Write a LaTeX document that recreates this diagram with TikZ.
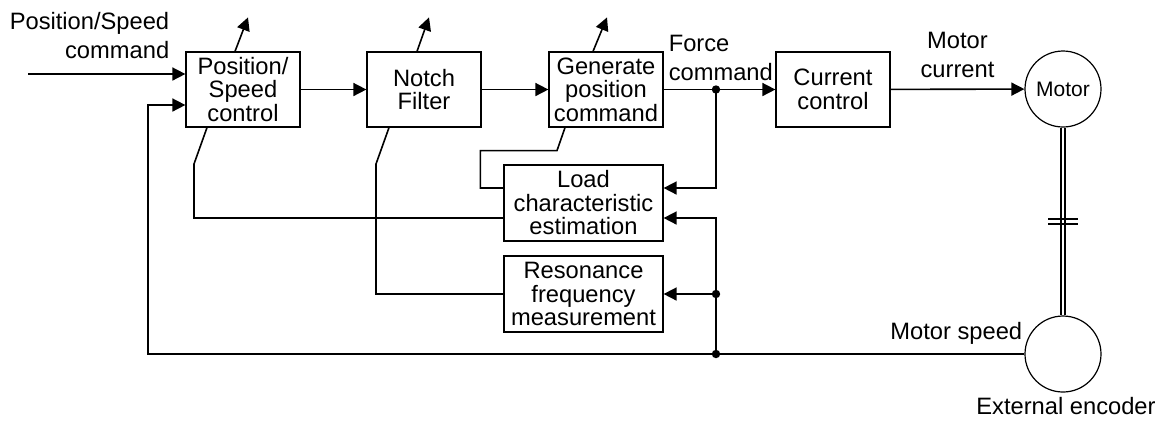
\documentclass[tikz,border=0pt]{standalone}
\usepackage{fontspec}
\setmainfont{Liberation Sans}
\usetikzlibrary{arrows.meta,calc}

\tikzset{
  blk/.style={draw, line width=0.6pt, minimum width=57pt, minimum height=37.5pt,
    align=center, inner sep=1pt, font=\fontsize{11.85}{11.75}\selectfont},
  wideblk/.style={blk, minimum width=79.5pt, minimum height=38pt},
  lbl/.style={inner sep=0pt, font=\fontsize{11.85}{14.5}\selectfont},
  rotor/.style={draw, circle, line width=0.6pt, minimum size=38pt, inner sep=0pt,
    font=\fontsize{10.5}{12}\selectfont},
  arr/.style={-{Triangle[length=6.5pt,width=6.5pt]}},
  jdot/.style={circle, fill, inner sep=0pt, minimum size=4.2pt},
}

\begin{document}
\begin{tikzpicture}[x=0.5pt, y=-0.5pt, line width=0.8pt]
    \useasboundingbox (0,0) rectangle (1157,420);
    % Forward path
    \node[blk] (pc) at (243,89.5) {Position/\\Speed\\control};
    \node[blk] (nf) at (424,89.5) {Notch\\Filter};
    \node[blk] (gp) at (606,89.5) {Generate\\position\\command};
    \node[blk] (cc) at (833,89.5) {Current\\control};
    \node[rotor] (motor) at (1063,89) {Motor};
    \node[rotor] (enc) at (1063,354) {};
    % Estimation blocks
    \node[wideblk] (le) at (583.5,203) {Load\\characteristic\\estimation};
    \node[wideblk] (rf) at (583.5,294) {Resonance\\frequency\\measurement};
    % Labels
    \node[lbl, align=right, anchor=east] (cmdlbl) at (170,36) {Position/Speed\\command};
    \node[lbl, align=left, anchor=west] (forcelbl) at (668,57.5) {Force\\command};
    \node[lbl, align=center] (curlbl) at (957.5,55) {Motor\\current};
    \node[lbl, anchor=east] (spdlbl) at (1023,333) {Motor speed};
    \node[lbl] (enclbl) at (1066,406) {External encoder};

    \coordinate (in) at (28,74);
    \coordinate (fb) at (148,105);
    \coordinate (fj) at (716,89.5);
    \coordinate (rj) at (716,294);
    \coordinate (sj) at (716,354);
    \draw[arr] (in) -- (in -| pc.west);
    \draw[arr] (pc) -- (nf);
    \draw[arr] (nf) -- (gp);
    \draw[arr] (gp) -- (cc);
    \draw[arr] (cc) -- (motor);
    % Speed feedback
    \draw[arr] (enc.west) -| (fb) -- (fb -| pc.west);
    \draw[arr] (fj) |- ($(le.east)+(0,-15)$);
    \draw[arr] (sj) |- ($(le.east)+(0,15)$);
    \draw[arr] (rj) -- (rf.east);
    \foreach \j in {fj, rj, sj}
        \node[jdot] at (\j) {};
    % Adjusted parameters
    \draw ($(le.west)+(0,15)$) -| (194,164) -- ($(pc.south)+(-36,0)$);
    \draw[arr] ($(pc.north)+(-8,0)$) -- ++(13,-34);
    \draw (rf.west) -| (376,164) -- ($(nf.south)+(-35,0)$);
    \draw[arr] ($(nf.north)+(-7,0)$) -- ++(12,-34);
    \draw ($(gp.south)+(-41,0)$) -- ++(-8,23) -| ($(le.west)+(-23,-15)$) -- ($(le.west)+(0,-15)$);
    \draw[arr] ($(gp.north)+(-13,0)$) -- ++(14,-34);
    % Shaft with break
    \draw[double, double distance=1.4pt, line width=0.6pt] (motor) -- (enc);
    \path (motor.south) -- coordinate[pos=0.5] (brk) (enc.north);
    \draw[line width=0.6pt] ($(brk)+(-15,-2.5)$) -- ++(30,0);
    \draw[line width=0.6pt] ($(brk)+(-15,2.5)$) -- ++(30,0);
\end{tikzpicture}
\end{document}
